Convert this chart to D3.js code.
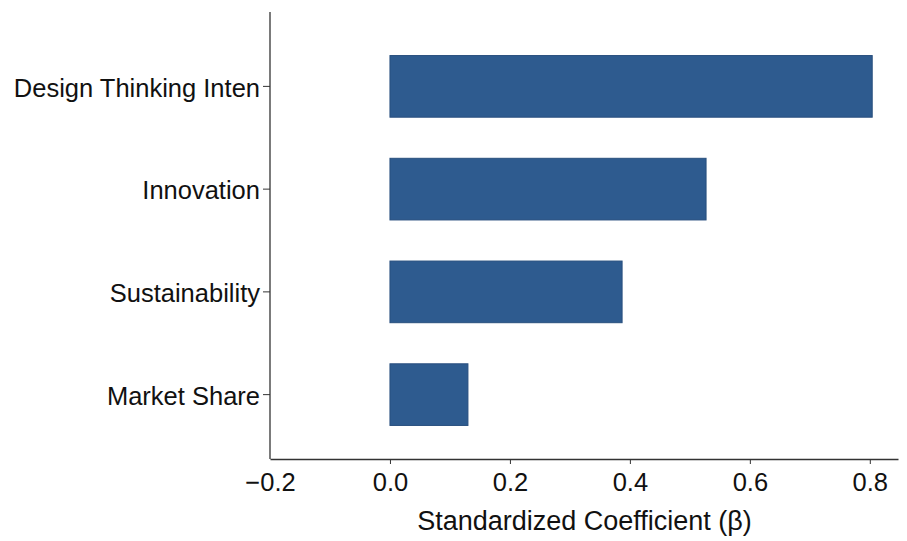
<!DOCTYPE html>
<html>
<head>
<meta charset="utf-8">
<script src="https://cdn.jsdelivr.net/npm/d3@7"></script>
<style>
  body { margin: 0; background: #fff; }
  text { font-family: "Liberation Sans", Arial, sans-serif; fill: #111; }
</style>
</head>
<body>
<div id="chart"></div>
<script>

// data
const CATEGORIES = ["Design Thinking Inten", "Innovation", "Sustainability", "Market Share"];
const VALUES = [0.804, 0.527, 0.387, 0.13];
const X_TICKS = [-0.2, 0.0, 0.2, 0.4, 0.6, 0.8];

const FRAME_WIDTH = 907;
const FRAME_HEIGHT = 541;
const PLOT = {left: 270, right: 898, top: 12, bottom: 459};

const FRAME = d3.select("#chart")
                .append("svg")
                  .attr("width", FRAME_WIDTH)
                  .attr("height", FRAME_HEIGHT);

const X_SCALE = d3.scaleLinear()
                  .domain([-0.2, 0.847])
                  .range([PLOT.left, PLOT.right]);

const Y_SCALE = d3.scaleBand()
                  .domain(CATEGORIES)
                  .range([35, 446])
                  .paddingInner(0.4)
                  .paddingOuter(0.2);

// bars
FRAME.selectAll(".bar")
    .data(CATEGORIES)
    .enter()
    .append("rect")
      .attr("class", "bar")
      .attr("x", X_SCALE(0))
      .attr("y", (d) => Y_SCALE(d))
      .attr("width", (d, i) => X_SCALE(VALUES[i]) - X_SCALE(0))
      .attr("height", Y_SCALE.bandwidth())
      .attr("fill", "#2e5b8f")
      .attr("stroke", "#284f7e")
      .attr("stroke-width", 1);

// x axis
const xAxis = FRAME.append("g")
    .attr("transform", "translate(0," + PLOT.bottom + ")")
    .call(d3.axisBottom(X_SCALE)
            .tickValues(X_TICKS)
            .tickFormat((d) => d3.format(".1f")(d).replace("-", "\u2212"))
            .tickSize(5)
            .tickSizeOuter(0)
            .tickPadding(9));
xAxis.select(".domain").attr("stroke", "#333").attr("stroke-width", 1.3);
xAxis.selectAll(".tick line").attr("stroke", "#333")
    .attr("opacity", (d) => d === -0.2 ? 0 : 1);
xAxis.selectAll(".tick text").attr("font-size", "25.5px").attr("fill", "#111");

// y axis
const yAxis = FRAME.append("g")
    .attr("transform", "translate(" + PLOT.left + ",0)")
    .call(d3.axisLeft(Y_SCALE)
            .tickSize(7)
            .tickSizeOuter(0)
            .tickPadding(3));
yAxis.select(".domain")
    .attr("d", "M0," + PLOT.top + "V" + PLOT.bottom)
    .attr("stroke", "#333").attr("stroke-width", 1.3);
yAxis.selectAll(".tick line").attr("stroke", "#333");
yAxis.selectAll(".tick text").attr("font-size", "25.5px").attr("fill", "#111")
    .attr("dy", "0.4em");

// axis label
FRAME.append("text")
    .attr("x", (PLOT.left + PLOT.right) / 2 + 0.5)
    .attr("y", 530)
    .attr("text-anchor", "middle")
    .attr("font-size", "27px")
    .text("Standardized Coefficient (\u03b2)");

</script>
</body>
</html>
